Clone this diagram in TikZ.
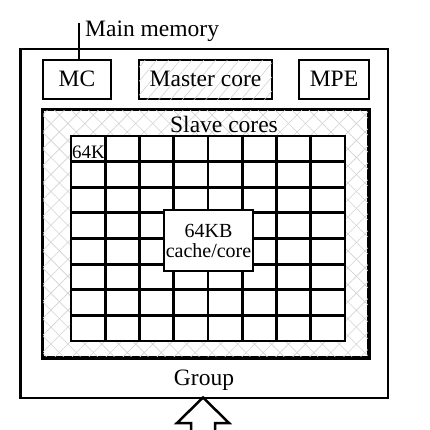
\documentclass[tikz,border=0pt]{standalone}
\usepackage{fontspec}
\setmainfont{Liberation Serif}
\usetikzlibrary{patterns.meta}
\begin{document}
\begin{tikzpicture}[x=1pt,y=-1pt,
  box/.style={draw=black,line width=2.5pt,inner sep=0pt,minimum width=#1},
  big/.style={font=\fontsize{23.5}{28}\selectfont,inner sep=0pt},
  mid/.style={font=\fontsize{20}{20}\selectfont,inner sep=0pt},
  gridline/.style={line width=2.8pt,line cap=rect}]
\useasboundingbox (0,0) rectangle (430,429);
% outer group box
\node[box=367.5pt,minimum height=349pt] (group) at (204.25,223.5) {};
% top units
\node[box=68pt,minimum height=39pt] (mc) at (77,79.5) {};
\node[box=133pt,minimum height=39pt,
  postaction={pattern={Lines[angle=50,distance=9pt,line width=0.5pt]},pattern color=gray!40}] (master) at (205.5,79.5) {};
\node[box=70pt,minimum height=39pt] (mpe) at (334,79.5) {};
\node[big,anchor=base] (mctxt) at (77,86) {MC};
\node[big,anchor=base] (mastertxt) at (205.5,86) {Master core};
\node[big,anchor=base] (mpetxt) at (334,86) {MPE};
% main memory label
\coordinate (mmtop) at (79,23);
\node[big,anchor=base west] (mm) at (85,36) {Main memory};
\draw[line width=2.5pt] (mmtop) -- (mmtop |- mc.north);
% slave cores box
\node[box=325pt,minimum height=247pt,
  postaction={pattern={Lines[angle=45,distance=12pt,line width=0.6pt]},pattern color=gray!35},
  postaction={pattern={Lines[angle=-45,distance=12pt,line width=0.6pt]},pattern color=gray!35}] (slave) at (205.5,233.5) {};
\draw[line width=2.5pt] (slave.north west) rectangle (slave.south east);
\node[big,anchor=base] (slavetxt) at (224,132) {Slave cores};
% grid of cores
\fill[white] (71,136) rectangle (345,341);
\foreach \i in {0,...,8} {
  \draw[gridline] ({71+\i*34.25},136) -- ({71+\i*34.25},341);
  \draw[gridline] (71,{136+\i*25.625}) -- (345,{136+\i*25.625});
}
\node[anchor=base west,font=\fontsize{19}{19}\selectfont,inner sep=0pt] (k64) at (72,158) {64K};
% cache box
\node[box=89pt,minimum height=61pt,fill=white] (cache) at (208.5,240.5) {};
\node[mid,anchor=base] (cachetxt1) at (208.5,237) {64KB};
\node[mid,anchor=base] (cachetxt2) at (208.5,257) {cache/core};
% group label
\node[big,anchor=base] (grouptxt) at (204,385) {Group};
% input arrow
\coordinate (tip) at (203,397.5);
\draw[line width=2.5pt,line join=miter] (191,432) -- (191,423) -- (177,423) -- (tip) -- (229,423) -- (215,423) -- (215,432);
\end{tikzpicture}
\end{document}
